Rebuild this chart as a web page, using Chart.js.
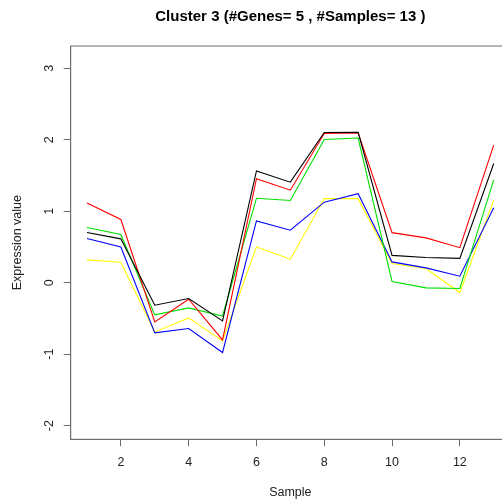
<!DOCTYPE html>
<html>
<head>
<meta charset="utf-8">
<script src="https://cdn.jsdelivr.net/npm/chart.js@4/dist/chart.umd.min.js"></script>
<style>
  html, body { margin: 0; padding: 0; background: #ffffff; overflow: hidden; }
  #wrap { width: 510px; height: 502px; }
</style>
</head>
<body>
<div id="wrap"><canvas id="c" width="510" height="502"></canvas></div>
<script>
// ---- data ----
const samples = [1, 2, 3, 4, 5, 6, 7, 8, 9, 10, 11, 12, 13];
const geneBlack  = [0.702, 0.613, -0.315, -0.221, -0.534, 1.564, 1.406, 2.100, 2.103, 0.382, 0.352, 0.340, 1.667];
const geneRed    = [1.116, 0.884, -0.548, -0.231, -0.800, 1.455, 1.294, 2.087, 2.095, 0.700, 0.627, 0.490, 1.923];
const geneGreen  = [0.772, 0.674, -0.450, -0.352, -0.466, 1.180, 1.150, 2.003, 2.023, 0.017, -0.073, -0.081, 1.438];
const geneBlue   = [0.618, 0.500, -0.702, -0.641, -0.976, 0.864, 0.734, 1.126, 1.245, 0.291, 0.207, 0.091, 1.049];
const geneYellow = [0.319, 0.287, -0.688, -0.492, -0.814, 0.501, 0.329, 1.178, 1.175, 0.268, 0.198, -0.138, 1.154];
const xTicks = [2, 4, 6, 8, 10, 12];
const yTicks = [-2, -1, 0, 1, 2, 3];
const titleText = 'Cluster 3 (#Genes= 5 , #Samples= 13 )';
const xTitle = 'Sample';
const yTitle = 'Expression value';

const FONT = '"Liberation Sans", Arial, Helvetica, sans-serif';
const AXIS = '#6e6e6e';
const TEXT = '#222222';

function series(vals) { return samples.map((s, i) => ({ x: s, y: vals[i] })); }

const sets = [
  { label: 'g1', data: series(geneBlack),  borderColor: '#000000' },
  { label: 'g2', data: series(geneRed),    borderColor: '#ff0000' },
  { label: 'g3', data: series(geneGreen),  borderColor: '#00e000' },
  { label: 'g4', data: series(geneBlue),   borderColor: '#0000ff' },
  { label: 'g5', data: series(geneYellow), borderColor: '#ffff00' }
].map(d => Object.assign(d, { borderWidth: 1.1, pointRadius: 0, tension: 0, fill: false }));

const boxPlugin = {
  id: 'box',
  afterDraw(chart) {
    const a = chart.chartArea, ctx = chart.ctx;
    ctx.save();
    ctx.strokeStyle = AXIS;
    ctx.lineWidth = 1;
    ctx.strokeRect(a.left, a.top, a.right - a.left, a.bottom - a.top);
    ctx.restore();
  }
};

new Chart(document.getElementById('c'), {
  type: 'line',
  data: { datasets: sets },
  plugins: [boxPlugin],
  options: {
    responsive: false,
    animation: false,
    devicePixelRatio: 1,
    layout: { padding: 0 },
    plugins: {
      legend: { display: false },
      tooltip: { enabled: false },
      title: {
        display: true,
        text: titleText,
        fullSize: false,
        color: '#000000',
        font: { family: FONT, size: 15, weight: 'bold', lineHeight: 1.2 },
        padding: { top: 7.6, bottom: 20.4 }
      }
    },
    scales: {
      x: {
        type: 'linear',
        min: 0.52,
        max: 13.48,
        afterBuildTicks(s) { s.ticks = xTicks.map(v => ({ value: v })); },
        afterFit(s) { s.height = 62.7; },
        grid: { drawOnChartArea: false, drawTicks: true, tickLength: 7, color: AXIS, lineWidth: 1 },
        border: { display: true, color: AXIS, width: 1 },
        ticks: { color: TEXT, font: { family: FONT, size: 12.5 }, padding: 9, maxRotation: 0, minRotation: 0 },
        title: { display: true, text: xTitle, color: TEXT, font: { family: FONT, size: 12.5, lineHeight: 1.2 }, padding: { top: 0, bottom: 1.5 } }
      },
      y: {
        type: 'linear',
        min: -2.19,
        max: 3.31,
        afterBuildTicks(s) { s.ticks = yTicks.map(v => ({ value: v })); },
        afterFit(s) { s.width = 70.7; },
        grid: { drawOnChartArea: false, drawTicks: true, tickLength: 7, color: AXIS, lineWidth: 1 },
        border: { display: true, color: AXIS, width: 1 },
        ticks: { color: TEXT, font: { family: FONT, size: 12.5 }, padding: 9, minRotation: 90, maxRotation: 90, crossAlign: 'center' },
        title: { display: true, text: yTitle, color: TEXT, font: { family: FONT, size: 12.5, lineHeight: 1.2 }, padding: { top: 10.5, bottom: 0 } }
      }
    }
  }
});
</script>
</body>
</html>
